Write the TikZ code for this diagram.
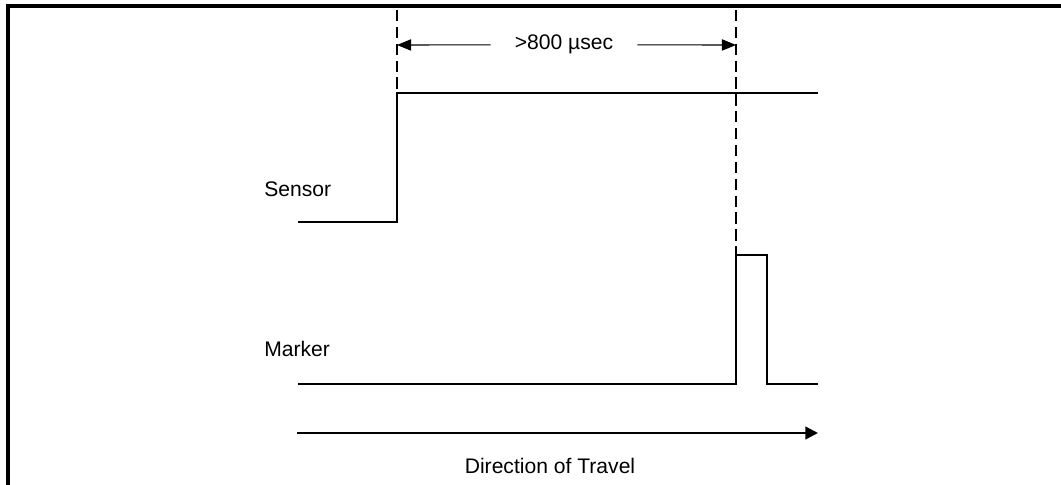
\documentclass[tikz,border=0pt]{standalone}
\usepackage{fontspec}
\setmainfont{Liberation Sans}
\usetikzlibrary{arrows.meta,positioning}

\begin{document}
\begin{tikzpicture}[x=0.025cm, y=-0.025cm,
    every node/.style={
        inner sep=0pt,
        font=\fontsize{15}{18}\selectfont
    },
    signal/.style={line width=0.8pt},
    guide/.style={line width=0.9pt, dash pattern=on 8pt off 4pt},
    measure/.style={line width=0.8pt, -{Triangle[length=10pt, width=8pt]}}
]

    \useasboundingbox (0,0) rectangle (1061,485);

    \draw[line width=2.2pt] (8,485) -- (8,6) -- (1061,6);



    \node (sensor_label) [anchor=base west] at (264,197) {Sensor};

    \node (marker_label) [anchor=base west] at (264,357) {Marker};

    \node (pulse_width_label) [anchor=base, inner xsep=17pt] at (564,50) {>800 µsec};

    \node (direction_label) [anchor=base] at (550,473) {Direction of Travel};



    \coordinate (sensor_start) at (298,222);
    \coordinate (sensor_rise_low) at (397,222);
    \coordinate (sensor_rise_high) at (397,93);
    \coordinate (sensor_end) at (818,93);

    \coordinate (marker_start) at (298,384);
    \coordinate (pulse_rise_low) at (736,384);
    \coordinate (pulse_rise_high) at (736,255);
    \coordinate (pulse_fall_high) at (767,255);
    \coordinate (pulse_fall_low) at (767,384);
    \coordinate (marker_end) at (818,384);

    \coordinate (guide_left_top) at (397,10);
    \coordinate (guide_right_top) at (736,10);
    \coordinate (measure_left) at (397,45);
    \coordinate (measure_right) at (736,45);

    \coordinate (travel_start) at (297,433);
    \coordinate (travel_end) at (818,433);


    \draw[signal] (sensor_start) -- (sensor_rise_low) -- (sensor_rise_high) -- (sensor_end);
    \draw[signal] (marker_start) -- (pulse_rise_low) -- (pulse_rise_high) -- (pulse_fall_high) -- (pulse_fall_low) -- (marker_end);

    \draw[guide] (guide_left_top) to (sensor_rise_high);
    \draw[guide] (guide_right_top) to (pulse_rise_high);

    \draw[measure] (pulse_width_label.west) to (measure_left);
    \draw[measure] (pulse_width_label.east) to (measure_right);

    \draw[line width=1.5pt, -{Triangle[length=9pt, width=9pt]}] (travel_start) to (travel_end);


\end{tikzpicture}
\end{document}
